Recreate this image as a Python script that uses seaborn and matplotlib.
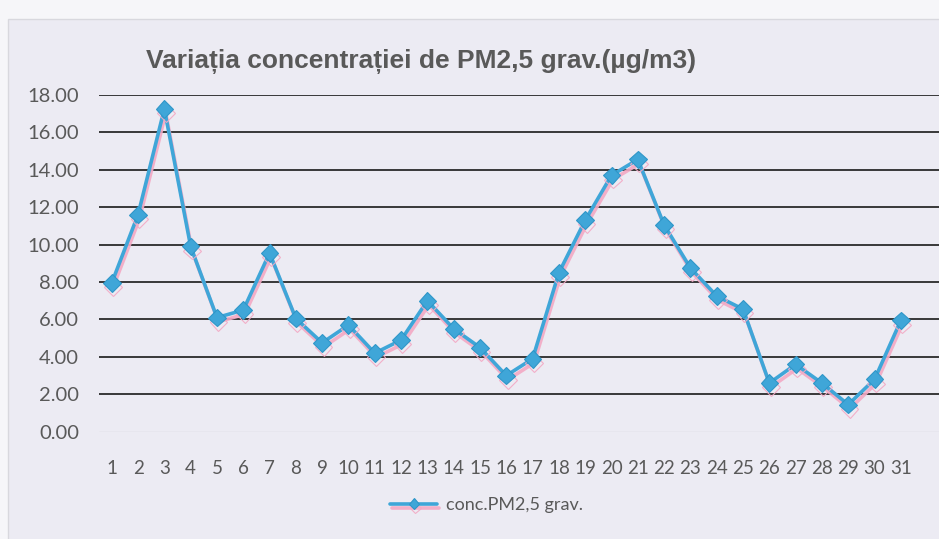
import numpy as np
import seaborn as sns
import matplotlib.pyplot as plt
import matplotlib.patheffects as pe
from matplotlib.patches import Rectangle

# Daily PM2.5 concentration
days = list(range(1, 32))
conc = [7.95, 11.6, 17.25, 9.9, 6.1, 6.5, 9.55, 6.05, 4.75, 5.7,
        4.2, 4.9, 7.0, 5.5, 4.5, 3.0, 3.9, 8.5, 11.3, 13.7,
        14.55, 11.05, 8.75, 7.25, 6.55, 2.6, 3.6, 2.6, 1.45, 2.8,
        5.95]
y_ticks = np.arange(0, 19, 2)

title = 'Variația concentrației de PM2,5 grav.(µg/m3)'
series_name = 'conc.PM2,5 grav.'

sns.set_theme(style='white')
plt.rcParams['font.family'] = ['Lato', 'DejaVu Sans']

fig = plt.figure(figsize=(9.39, 5.39), dpi=100)
fig.patch.set_facecolor('#f6f6f9')
# chart area frame, behind the axes
fig.patches.append(Rectangle((0.009, -0.01), 1.0, 0.975, transform=fig.transFigure,
                             facecolor='#ecebf3', edgecolor='#d8d8de', linewidth=1, zorder=-5))

ax = fig.add_axes([0.105, 0.199, 0.895, 0.625])
ax.set_facecolor('none')

blue = '#3fa6d8'
sns.lineplot(x=days, y=conc, ax=ax, color=blue, linewidth=2.6, marker='D',
             markersize=9, markeredgecolor='#2f96c8', markeredgewidth=0.8,
             label=series_name, zorder=3)
line = ax.lines[0]
line.set_path_effects([pe.SimpleLineShadow(offset=(1, -3), shadow_color='#f3a9c4', alpha=0.9),
                       pe.Normal()])

ax.set_xlim(0.5, 32.45)
ax.set_ylim(0, 18)
ax.set_yticks(y_ticks)
ax.set_yticklabels([f'{v:.2f}' for v in y_ticks], fontsize=14.5, color='#595959')
ax.set_xticks(days)
ax.set_xticklabels([str(d) for d in days], fontsize=13.5, color='#595959')
ax.tick_params(axis='both', length=0)
ax.tick_params(axis='x', pad=20)
ax.tick_params(axis='y', pad=14)

for v in y_ticks[1:]:
    ax.axhline(v, color='#2a2a2a', linewidth=1.3, zorder=1)
ax.axhline(0, color='#d6d6dc', linewidth=1.0, zorder=1)
for s in ax.spines.values():
    s.set_visible(False)

fig.text(0.448, 0.885, title, ha='center', va='center', fontsize=19,
         fontweight='bold', color='#595959', family=['Liberation Sans', 'DejaVu Sans'])

leg = ax.legend(loc='center', bbox_to_anchor=(0.462, -0.217), frameon=False,
                fontsize=13, handlelength=2.6, handletextpad=0.5, markerscale=0.6)
for t in leg.get_texts():
    t.set_color('#595959')

fig.savefig('out.png', dpi=100, facecolor=fig.get_facecolor())
